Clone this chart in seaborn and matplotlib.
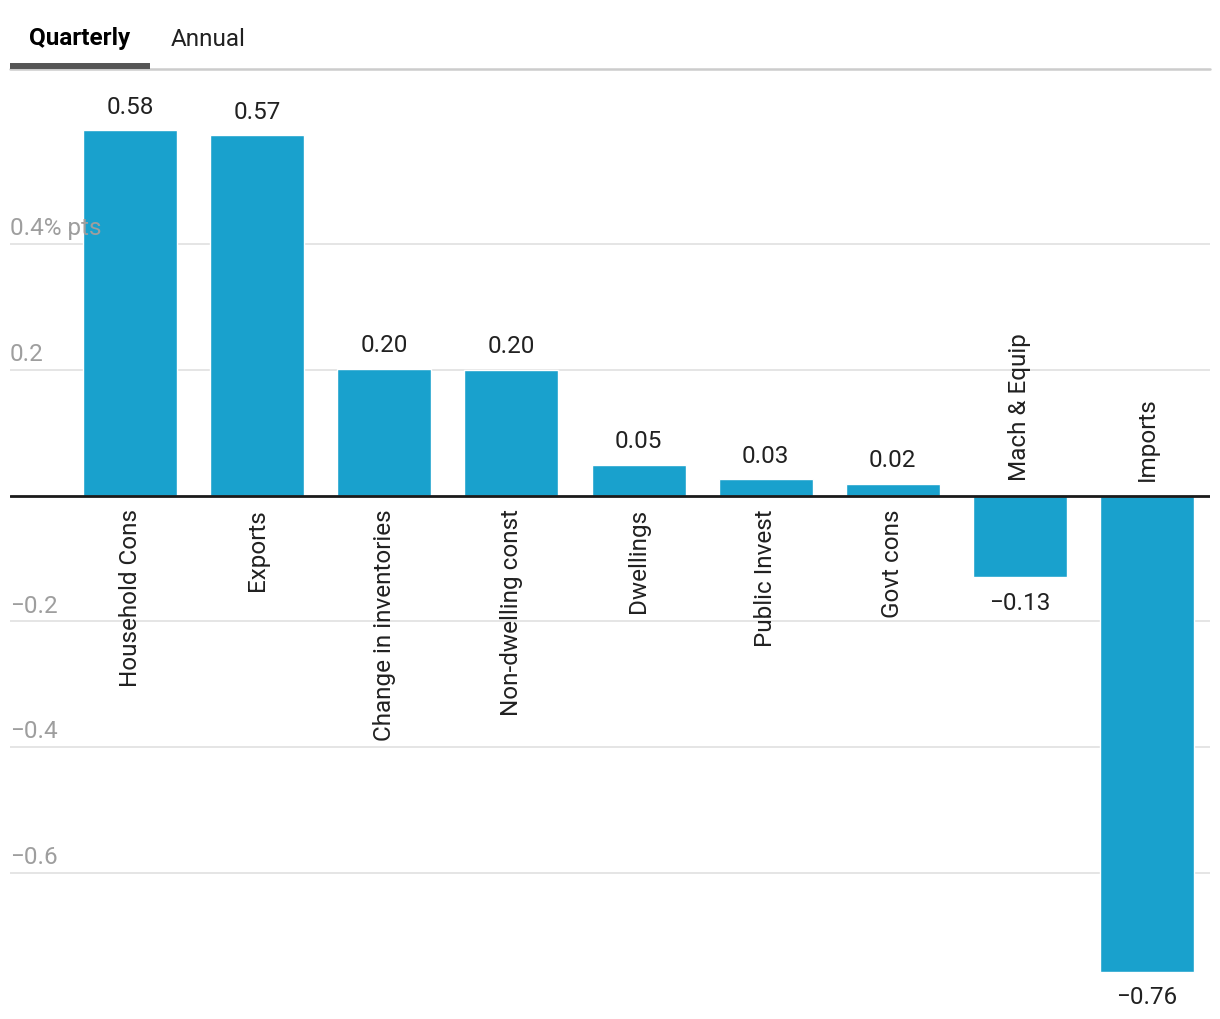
#!/usr/bin/env python3
"""
Contributions to quarterly GDP growth, by expenditure component.
"""

import matplotlib.pyplot as plt
import pandas as pd
import seaborn as sns
from matplotlib.lines import Line2D

# Data (percentage points)
categories = [
    "Household Cons",
    "Exports",
    "Change in inventories",
    "Non-dwelling const",
    "Dwellings",
    "Public Invest",
    "Govt cons",
    "Mach & Equip",
    "Imports",
]
contributions = [0.581, 0.573, 0.202, 0.200, 0.049, 0.026, 0.019, -0.130, -0.757]
grid_values = [0.4, 0.2, -0.2, -0.4, -0.6]
grid_labels = ["0.4% pts", "0.2", "\u22120.2", "\u22120.4", "\u22120.6"]
tabs = ["Quarterly", "Annual"]

BAR = "#19a1cd"
TEXT = "#212121"
GREY = "#9e9e9e"
FS = 17.5


def fmt(v: float) -> str:
    return f"{v:.2f}".replace("-", "\u2212")


def main() -> None:
    df = pd.DataFrame({"component": categories, "value": contributions})

    sns.set_theme(style="white")
    plt.rcParams["font.family"] = ["Roboto", "DejaVu Sans"]

    fig = plt.figure(figsize=(12.2, 10.2), dpi=100)
    ax = fig.add_axes([10 / 1220, 0.0015, 1200 / 1220, 0.9185])

    sns.barplot(
        ax=ax,
        data=df,
        x="component",
        y="value",
        color=BAR,
        saturation=1,
        width=0.74,
        zorder=3,
    )

    ax.set_xlim(-0.945, 8.496)
    ax.set_ylim(-0.83, 0.66)
    for side in ax.spines.values():
        side.set_visible(False)
    ax.set_xticks([])
    ax.set_yticks([])
    ax.set_xlabel("")
    ax.set_ylabel("")

    # gridlines + labels (labels drawn over the bars)
    for v, lab in zip(grid_values, grid_labels):
        ax.axhline(v, color="#e0e0e0", lw=1.2, zorder=0)
        ax.annotate(
            lab,
            xy=(0, v),
            xycoords=("axes fraction", "data"),
            xytext=(0, 7),
            textcoords="offset points",
            ha="left",
            va="baseline",
            fontsize=FS,
            color=GREY,
            zorder=5,
        )
    ax.axhline(0, color="#1a1a1a", lw=2, zorder=4)

    for i, (name, v) in enumerate(zip(categories, contributions)):
        if v >= 0:
            ax.annotate(fmt(v), xy=(i, v), xytext=(0, 12.5), textcoords="offset points",
                        ha="center", va="baseline", fontsize=FS, color=TEXT)
            ax.annotate(name, xy=(i, 0), xytext=(0, -9), textcoords="offset points",
                        ha="center", va="top", rotation=90, fontsize=FS, color=TEXT)
        else:
            ax.annotate(fmt(v), xy=(i, v), xytext=(0, -9.5), textcoords="offset points",
                        ha="center", va="top", fontsize=FS, color=TEXT)
            ax.annotate(name, xy=(i, 0), xytext=(0, 11), textcoords="offset points",
                        ha="center", va="bottom", rotation=90, fontsize=FS, color=TEXT)

    # tab header
    fig.text(80 / 1220, 1 - 39 / 1020, tabs[0], ha="center", va="center",
             fontsize=FS, fontweight="bold", color="#000000")
    fig.text(208 / 1220, 1 - 39 / 1020, tabs[1], ha="center", va="center",
             fontsize=FS, color=TEXT)
    fig.add_artist(Line2D([10 / 1220, 1210 / 1220], [1 - 70 / 1020] * 2,
                          transform=fig.transFigure, color="#cccccc", lw=1.8))
    fig.add_artist(Line2D([10 / 1220, 150 / 1220], [1 - 67 / 1020] * 2,
                          transform=fig.transFigure, color="#555555", lw=4.3,
                          solid_capstyle="butt"))

    fig.savefig("out.png", dpi=100, facecolor="white")


if __name__ == "__main__":
    main()
